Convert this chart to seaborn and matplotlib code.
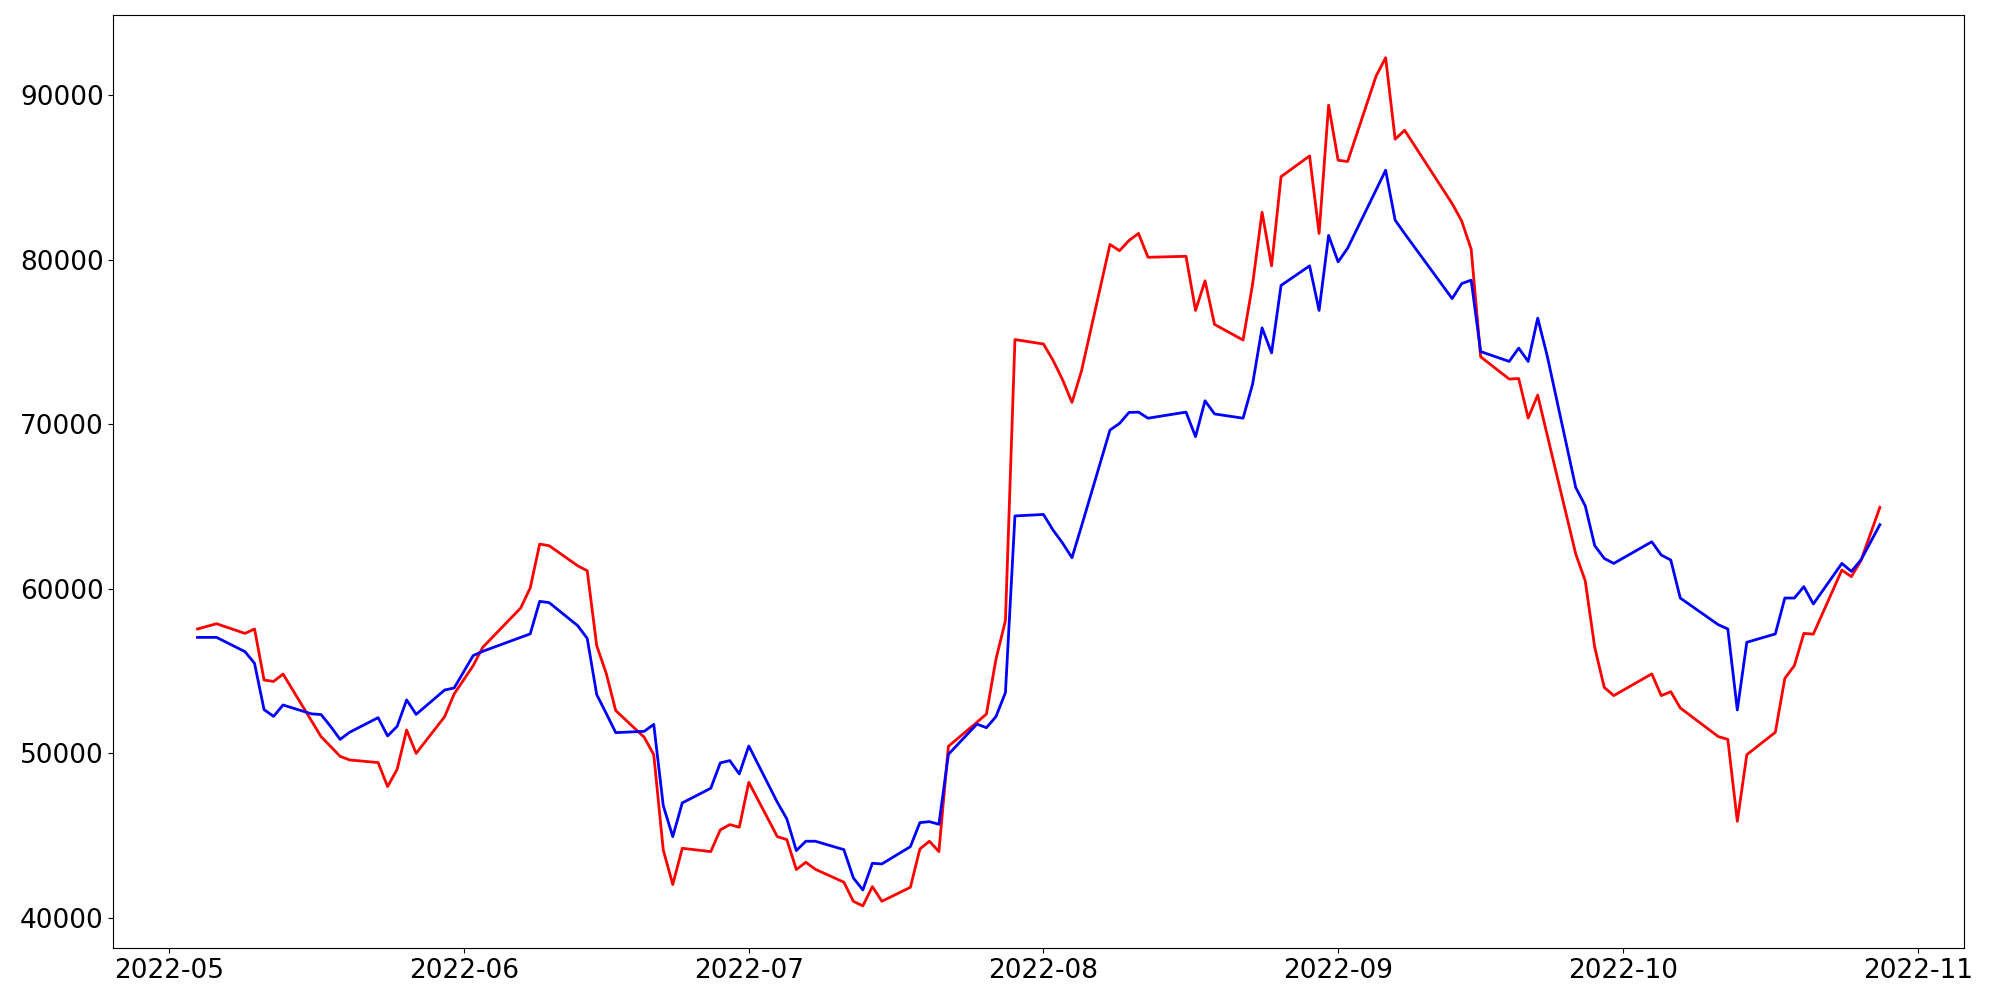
import pandas as pd
import numpy as np
import matplotlib
matplotlib.use("Agg")
import matplotlib.pyplot as plt
import matplotlib.dates as mdates
import seaborn as sns

# Trading days (Korean market calendar, 2022-05-04 .. 2022-10-28)
holidays = ["2022-05-05", "2022-06-01", "2022-06-06", "2022-08-15",
            "2022-09-09", "2022-09-12", "2022-10-03", "2022-10-10"]
dates = pd.bdate_range("2022-05-04", "2022-10-28")
dates = dates[~dates.isin(pd.to_datetime(holidays))]

red_values = [
    # May
    57560, 57880, 57290, 57560, 54460, 54370, 54820, 51970, 51015, 50425,
    49820, 49600, 49440, 47980, 49030, 51420, 50000, 52230, 53610,
    # Jun
    55330, 56440, 58835, 60050, 62720, 62620, 61400, 61100, 56545, 54860,
    52600, 50975, 49920, 44130, 42030, 44230, 44030, 45350, 45670, 45510,
    # Jul
    48240, 44940, 44760, 42940, 43380, 42955, 42170, 41010, 40730, 41900,
    41010, 41860, 44190, 44660, 44030, 50430, 51890, 52390, 55710, 58070,
    75150,
    # Aug
    74880, 73900, 72720, 71330, 73240, 80930, 80550, 81170, 81600, 80150,
    80210, 76920, 78720, 76070, 75120, 78500, 82890, 79630, 85050, 86310,
    81600, 89390,
    # Sep
    86050, 85970, 91170, 92280, 87330, 87870, 83410, 82360, 80640, 74100,
    72750, 72780, 70380, 71775, 69345, 62120, 60490, 56440, 54010, 53510,
    # Oct
    54830, 53510, 53750, 52760, 51020, 50850, 45870, 49920, 51280, 54560,
    55330, 57290, 57250, 61140, 60740, 61710, 63330, 64950,
]

blue_values = [
    # May
    57050, 57050, 56180, 55470, 52660, 52250, 52940, 52400, 52360, 51640,
    50850, 51280, 52170, 51060, 51640, 53250, 52370, 53850, 53975,
    # Jun
    55940, 56200, 57050, 57260, 59240, 59160, 57760, 56990, 53570, 52430,
    51260, 51340, 51760, 46825, 44940, 46990, 47880, 49420, 49560, 48750,
    # Jul
    50450, 47030, 46020, 44090, 44660, 44660, 44150, 42430, 41700, 43320,
    43280, 44330, 45790, 45850, 45690, 49940, 51780, 51560, 52230, 53690,
    64430,
    # Aug
    64520, 63580, 62790, 61890, 63800, 69650, 70050, 70720, 70740, 70370,
    70740, 69250, 71430, 70630, 70370, 72430, 75860, 74340, 78440, 79630,
    76920, 81480,
    # Sep
    79870, 80700, 84250, 85440, 82410, 81590, 77640, 78550, 78760, 74420,
    73820, 74630, 73820, 76450, 74160, 66160, 65050, 62620, 61850, 61545,
    # Oct
    62860, 62055, 61750, 59440, 57820, 57560, 52640, 56750, 57260, 59440,
    59440, 60130, 59080, 61545, 61060, 61750, 62820, 63900,
]

df = pd.DataFrame({
    "date": list(dates) * 2,
    "value": red_values + blue_values,
    "series": ["red"] * len(red_values) + ["blue"] * len(blue_values),
})

fig, ax = plt.subplots(figsize=(20, 10), dpi=100)
fig.subplots_adjust(left=0.0567, right=0.982, top=0.9847, bottom=0.0517)

sns.lineplot(data=df, x="date", y="value", hue="series",
             palette={"red": "red", "blue": "blue"},
             linewidth=2, legend=False, ax=ax, estimator=None)

ax.xaxis.set_major_locator(mdates.MonthLocator())
ax.xaxis.set_major_formatter(mdates.DateFormatter("%Y-%m"))
ax.set_xlabel("")
ax.set_ylabel("")
ax.tick_params(labelsize=19)

fig.savefig("out.png", dpi=100)
